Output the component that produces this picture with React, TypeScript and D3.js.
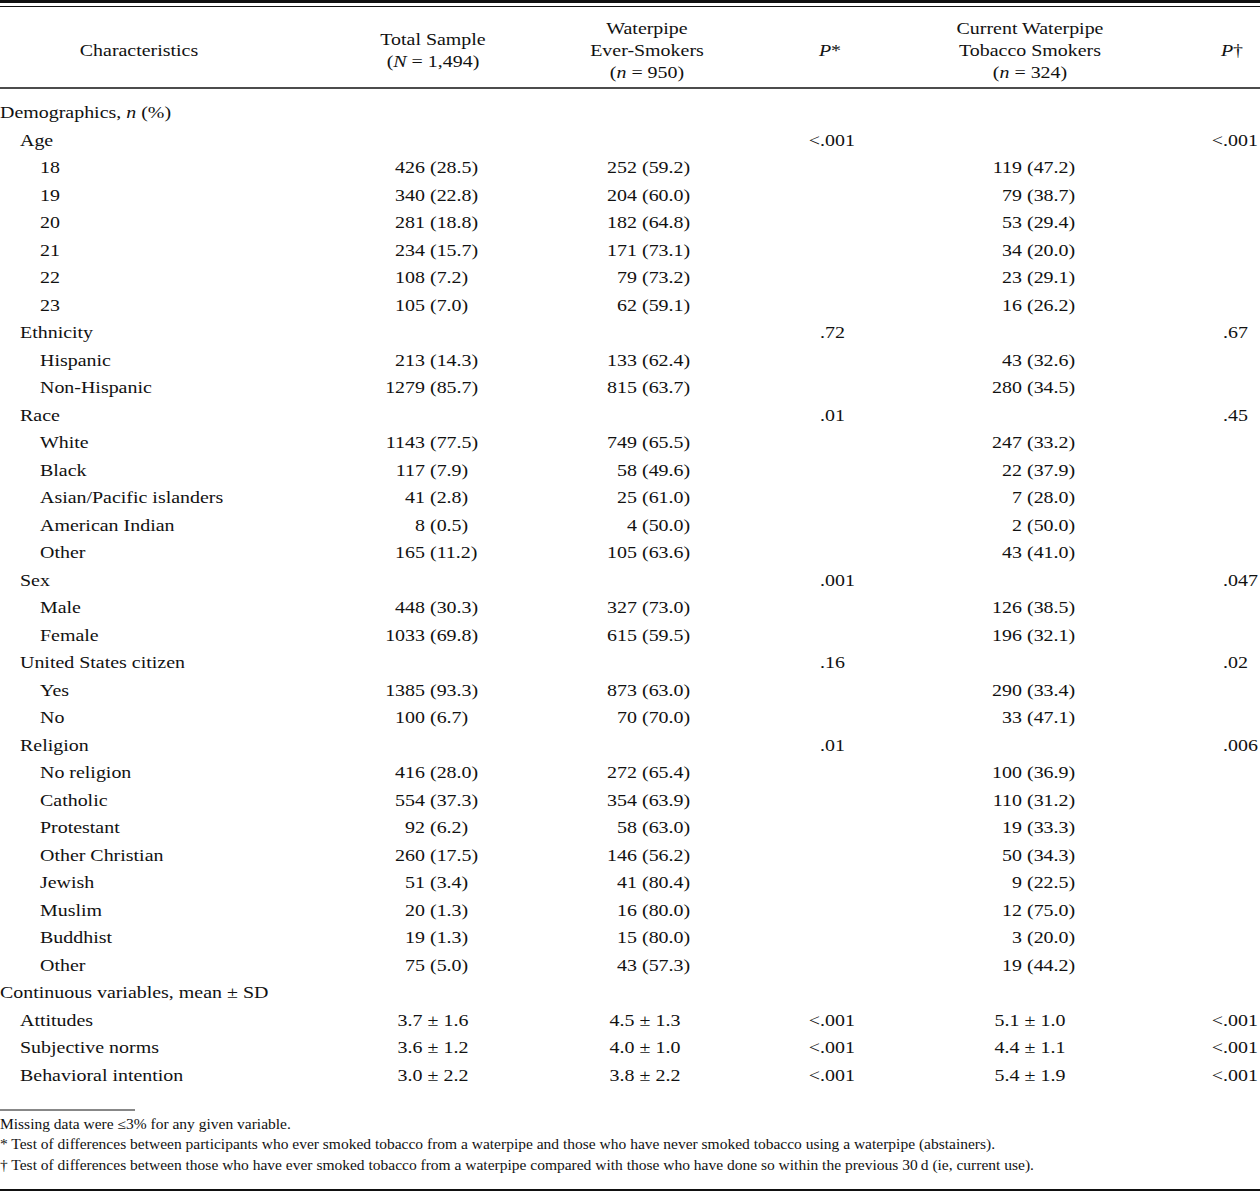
import React from "react";
import * as d3 from "d3";

// ---------- DATA ----------
const rowLabels = [
  "Demographics", "Age", "18", "19", "20", "21", "22", "23",
  "Ethnicity", "Hispanic", "Non-Hispanic",
  "Race", "White", "Black", "Asian/Pacific islanders", "American Indian", "Other",
  "Sex", "Male", "Female",
  "United States citizen", "Yes", "No",
  "Religion", "No religion", "Catholic", "Protestant", "Other Christian", "Jewish", "Muslim", "Buddhist", "Other",
];
const rowLevels = [0, 1, 2, 2, 2, 2, 2, 2, 1, 2, 2, 1, 2, 2, 2, 2, 2, 1, 2, 2, 1, 2, 2, 1, 2, 2, 2, 2, 2, 2, 2, 2];

const totalCount = [null, null, 426, 340, 281, 234, 108, 105, null, 213, 1279, null, 1143, 117, 41, 8, 165, null, 448, 1033, null, 1385, 100, null, 416, 554, 92, 260, 51, 20, 19, 75];
const totalPct = [null, null, 28.5, 22.8, 18.8, 15.7, 7.2, 7.0, null, 14.3, 85.7, null, 77.5, 7.9, 2.8, 0.5, 11.2, null, 30.3, 69.8, null, 93.3, 6.7, null, 28.0, 37.3, 6.2, 17.5, 3.4, 1.3, 1.3, 5.0];
const everCount = [null, null, 252, 204, 182, 171, 79, 62, null, 133, 815, null, 749, 58, 25, 4, 105, null, 327, 615, null, 873, 70, null, 272, 354, 58, 146, 41, 16, 15, 43];
const everPct = [null, null, 59.2, 60.0, 64.8, 73.1, 73.2, 59.1, null, 62.4, 63.7, null, 65.5, 49.6, 61.0, 50.0, 63.6, null, 73.0, 59.5, null, 63.0, 70.0, null, 65.4, 63.9, 63.0, 56.2, 80.4, 80.0, 80.0, 57.3];
const currentCount = [null, null, 119, 79, 53, 34, 23, 16, null, 43, 280, null, 247, 22, 7, 2, 43, null, 126, 196, null, 290, 33, null, 100, 110, 19, 50, 9, 12, 3, 19];
const currentPct = [null, null, 47.2, 38.7, 29.4, 20.0, 29.1, 26.2, null, 32.6, 34.5, null, 33.2, 37.9, 28.0, 50.0, 41.0, null, 38.5, 32.1, null, 33.4, 47.1, null, 36.9, 31.2, 33.3, 34.3, 22.5, 75.0, 20.0, 44.2];
const pEver = [null, "<.001", null, null, null, null, null, null, ".72", null, null, ".01", null, null, null, null, null, ".001", null, null, ".16", null, null, ".01", null, null, null, null, null, null, null, null];
const pCurrent = [null, "<.001", null, null, null, null, null, null, ".67", null, null, ".45", null, null, null, null, null, ".047", null, null, ".02", null, null, ".006", null, null, null, null, null, null, null, null];

const contLabels = ["Attitudes", "Subjective norms", "Behavioral intention"];
const contTotalMean = [3.7, 3.6, 3.0];
const contTotalSD = [1.6, 1.2, 2.2];
const contEverMean = [4.5, 4.0, 3.8];
const contEverSD = [1.3, 1.0, 2.2];
const contCurrentMean = [5.1, 4.4, 5.4];
const contCurrentSD = [1.0, 1.1, 1.9];
const contPEver = ["<.001", "<.001", "<.001"];
const contPCurrent = ["<.001", "<.001", "<.001"];

const footnotes = [
  "Missing data were \u22643% for any given variable.",
  "* Test of differences between participants who ever smoked tobacco from a waterpipe and those who have never smoked tobacco using a waterpipe (abstainers).",
  "\u2020 Test of differences between those who have ever smoked tobacco from a waterpipe compared with those who have done so within the previous 30\u2009d (ie, current use).",
];

// ---------- LAYOUT ----------
const W = 1260;
const H = 1193;
const SX = 1.14; // horizontal stretch of the typeset page
const FONT = "'Liberation Serif', 'Times New Roman', serif";
const BODY = 17.5;
const FOOT = 13.6;

const colX = { label: 0, total: 430, ever: 642, pEver: 820, current: 1027, pCurrent: 1223 };
const indent = 20;
const spaceW = BODY * 0.25 * SX;

export default function App() {
  const nRows = rowLabels.length + 1 + contLabels.length; // + "Continuous variables" header
  const y = d3.scaleLinear().domain([0, nRows - 1]).range([112, 1075]);
  const fmt = d3.format(".1f");
  const base = 6;

  const tx = (x: number) => x / SX;

  const countPct = (x: number, yy: number, c: number | null, p: number | null, key: string) =>
    c == null ? null : (
      <g key={key}>
        <text x={tx(x - spaceW)} y={yy} textAnchor="end">{c}</text>
        <text x={tx(x)} y={yy}>({fmt(p as number)})</text>
      </g>
    );

  const pVal = (x: number, yy: number, v: string | null, key: string) => {
    if (v == null) return null;
    const lt = v.startsWith("<");
    const rest = lt ? v.slice(1) : v;
    return (
      <g key={key}>
        {lt && <text x={tx(x)} y={yy} textAnchor="end">&lt;</text>}
        <text x={tx(x)} y={yy}>{rest}</text>
      </g>
    );
  };

  const meanSD = (x: number, yy: number, m: number, s: number, key: string) => (
    <text key={key} x={tx(x + 3)} y={yy} textAnchor="middle">{`${fmt(m)} \u00b1 ${fmt(s)}`}</text>
  );

  const rows: React.ReactNode[] = [];
  rowLabels.forEach((lab, i) => {
    const yy = y(i) + base;
    rows.push(
      <text key={"l" + i} x={tx(colX.label + rowLevels[i] * indent)} y={yy}>
        {i === 0 ? (
          <>
            Demographics, <tspan fontStyle="italic">n</tspan> (%)
          </>
        ) : (
          lab
        )}
      </text>
    );
    rows.push(countPct(colX.total, yy, totalCount[i], totalPct[i], "t" + i));
    rows.push(countPct(colX.ever, yy, everCount[i], everPct[i], "e" + i));
    rows.push(countPct(colX.current, yy, currentCount[i], currentPct[i], "c" + i));
    rows.push(pVal(colX.pEver, yy, pEver[i], "pe" + i));
    rows.push(pVal(colX.pCurrent, yy, pCurrent[i], "pc" + i));
  });
  const ci = rowLabels.length;
  rows.push(
    <text key="conthead" x={tx(0)} y={y(ci) + base}>
      Continuous variables, mean {"\u00b1"} SD
    </text>
  );
  contLabels.forEach((lab, j) => {
    const yy = y(ci + 1 + j) + base;
    rows.push(<text key={"cl" + j} x={tx(indent)} y={yy}>{lab}</text>);
    rows.push(meanSD(colX.total, yy, contTotalMean[j], contTotalSD[j], "ct" + j));
    rows.push(meanSD(colX.ever, yy, contEverMean[j], contEverSD[j], "ce" + j));
    rows.push(meanSD(colX.current, yy, contCurrentMean[j], contCurrentSD[j], "cc" + j));
    rows.push(pVal(colX.pEver, yy, contPEver[j], "cpe" + j));
    rows.push(pVal(colX.pCurrent, yy, contPCurrent[j], "cpc" + j));
  });

  const hb = [34, 56, 78];
  const hb2 = [45, 67];

  return (
    <svg
      width={W}
      height={H}
      style={{ position: "absolute", left: 0, top: 0, background: "#fff" }}
      fontFamily={FONT}
    >
      <rect x={0} y={0} width={W} height={H} fill="#fff" />
      {/* rules */}
      <line x1={0} x2={W} y1={1.5} y2={1.5} stroke="#111" strokeWidth={3} />
      <line x1={0} x2={W} y1={6.5} y2={6.5} stroke="#111" strokeWidth={1} />
      <line x1={0} x2={W} y1={88} y2={88} stroke="#111" strokeWidth={1.3} />
      <line x1={0} x2={135} y1={1110} y2={1110} stroke="#111" strokeWidth={1} />
      <line x1={0} x2={W} y1={1190} y2={1190} stroke="#111" strokeWidth={2} />

      <g transform={`scale(${SX},1)`} fontSize={BODY} fill="#111">
        {/* header */}
        <text x={tx(139)} y={hb[1]} textAnchor="middle">Characteristics</text>
        <text x={tx(433)} y={hb2[0]} textAnchor="middle">Total Sample</text>
        <text x={tx(433)} y={hb2[1]} textAnchor="middle">
          (<tspan fontStyle="italic">N</tspan> = 1,494)
        </text>
        <text x={tx(647)} y={hb[0]} textAnchor="middle">Waterpipe</text>
        <text x={tx(647)} y={hb[1]} textAnchor="middle">Ever-Smokers</text>
        <text x={tx(647)} y={hb[2]} textAnchor="middle">
          (<tspan fontStyle="italic">n</tspan> = 950)
        </text>
        <text x={tx(830)} y={hb[1]} textAnchor="middle">
          <tspan fontStyle="italic">P</tspan>*
        </text>
        <text x={tx(1030)} y={hb[0]} textAnchor="middle">Current Waterpipe</text>
        <text x={tx(1030)} y={hb[1]} textAnchor="middle">Tobacco Smokers</text>
        <text x={tx(1030)} y={hb[2]} textAnchor="middle">
          (<tspan fontStyle="italic">n</tspan> = 324)
        </text>
        <text x={tx(1232)} y={hb[1]} textAnchor="middle">
          <tspan fontStyle="italic">P</tspan>{"\u2020"}
        </text>

        {rows}

        {/* footnotes */}
        <g fontSize={FOOT}>
          {footnotes.map((f, k) => (
            <text key={"f" + k} x={0} y={1129 + k * 20.5}>{f}</text>
          ))}
        </g>
      </g>
    </svg>
  );
}
